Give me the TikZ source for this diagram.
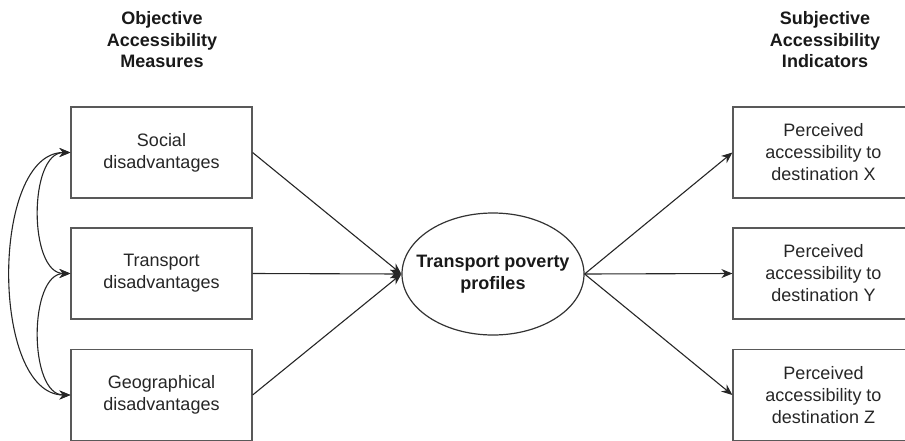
\documentclass[tikz,border=0pt]{standalone}
\usepackage{fontspec}
\setmainfont{Liberation Sans}
\usetikzlibrary{arrows.meta,shapes.geometric}
\begin{document}
\begin{tikzpicture}[x=1pt,y=-1pt,
  box/.style={draw=black!65,line width=1.2pt,minimum width=181pt,minimum height=91pt,inner sep=0pt,align=center,text=black!85,font=\fontsize{18}{22}\selectfont},
  hdr/.style={align=center,font=\fontsize{18}{21.5}\selectfont\bfseries,text=black!90},
  conn/.style={draw=black!85,line width=1.1pt,-{Stealth[length=11pt,width=9pt]}},
  dconn/.style={draw=black!85,line width=1.1pt,{Stealth[length=11pt,width=9pt]}-{Stealth[length=11pt,width=9pt]}}]
\useasboundingbox (0,0) rectangle (905,440);
\node[hdr] (oh) at (162,40) {Objective\\Accessibility\\Measures};
\node[hdr] (sh) at (825,40) {Subjective\\Accessibility\\Indicators};
\node[box] (s1) at (161.5,152.5) {Social\\disadvantages};
\node[box] (s2) at (161.5,273.5) {Transport\\disadvantages};
\node[box] (s3) at (161.5,395) {Geographical\\disadvantages};
\node[draw=black!80,line width=1.2pt,ellipse,minimum width=182pt,minimum height=122pt,inner sep=0pt] (tp) at (493,274) {};
\node[align=center,font=\fontsize{18}{22}\selectfont\bfseries,text=black!90] (tpl) at (tp.center) {Transport poverty\\profiles};
\node[box] (p1) at (823.5,152.5) {Perceived\\accessibility to\\destination X};
\node[box] (p2) at (823.5,273.5) {Perceived\\accessibility to\\destination Y};
\node[box] (p3) at (823.5,395) {Perceived\\accessibility to\\destination Z};
\draw[conn] (s1.east) -- (tp.west);
\draw[conn] (s2.east) -- (tp.west);
\draw[conn] (s3.east) -- (tp.west);
\draw[conn] (tp.east) -- (p1.west);
\draw[conn] (tp.east) -- (p2.west);
\draw[conn] (tp.east) -- (p3.west);
\draw[dconn] (s1.west) .. controls +(-42,0) and +(-42,0) .. (s2.west);
\draw[dconn] (s2.west) .. controls +(-42,0) and +(-42,0) .. (s3.west);
\draw[dconn] (s1.west) .. controls +(-80,0) and +(-80,0) .. (s3.west);
\end{tikzpicture}
\end{document}
